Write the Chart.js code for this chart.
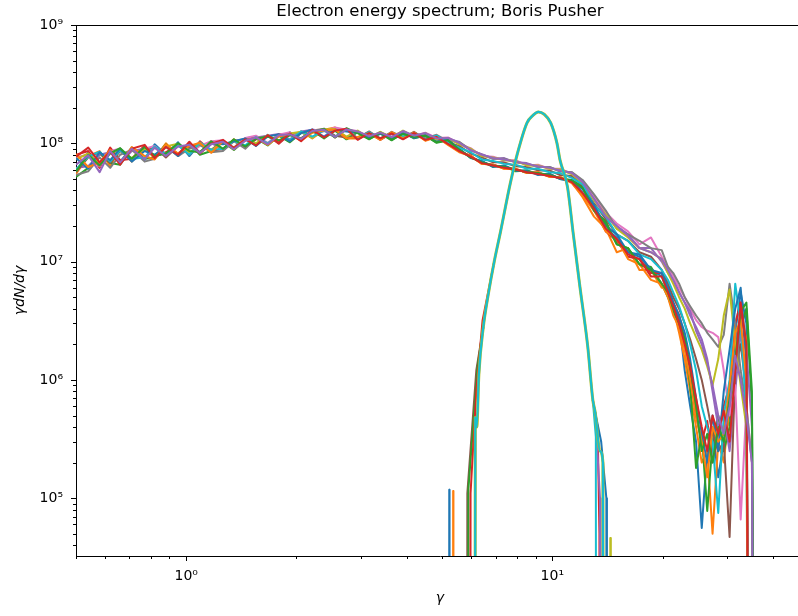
<!DOCTYPE html>
<html>
<head>
<meta charset="utf-8">
<script src="https://cdn.jsdelivr.net/npm/chart.js@4.4.1/dist/chart.umd.min.js"></script>
<style>
  html, body { margin: 0; padding: 0; background: #fff; overflow: hidden; }
  canvas { display: block; }
</style>
</head>
<body>
<canvas id="spectrum" width="806" height="616"></canvas>
<script>
// gamma bin centres shared by all the late-time spectra
const gammaBins = [0.50,0.54,0.58,0.62,0.66,0.71,0.77,0.82,0.88,0.95,1.02,1.09,1.17,1.26,1.35,1.45,1.55,1.67,1.79,1.92,
  2.06,2.21,2.38,2.55,2.74,2.94,3.16,3.39,3.64,3.91,4.19,4.50,4.83,5.19,5.57,5.98,6.42,6.89,7.39,7.94,
  8.52,9.14,9.82,10.5,11.3,12.1,13.0,14.0,15.0,16.1,17.3,18.6,19.9,20.7,21.4,22.2,23.0,23.8,24.7,25.6,
  26.5,27.4,28.4,29.4,30.5,31.6,32.7,33.9,35.1,36.4,37.7];

// gamma dN/dgamma of each run, in units of 1e6 (0 = empty bin)
const run01 = [58,84,66,88,70,92,72,98,80,102,78,99,86, 104,90,110,96,118,100,124,106,127,112,134,112,
  126,110,124,108,126,112,119,104,107, 90,75,71,63,65,59,59,54,55,50,49,
  38,29,19,16,12,11,8.5,7.5,5.5,4.5,3.2,1.2,0.6,0.3,0.056,0.25,0.4,0.15,0.3,0.5,2.5,5.5,3,0,0,0];
const run02 = [55,78,86,64,90,70,95,74,100,78,97,82,104, 88,108,92,114,98,120,104,126,110,130,136,110,
  110,125,108,124,110,125,106,114,98, 85,79,67,66,61,61,56,57,52,52,47,
  35,24,19,12,13,8.5,8.5,6,6,4,2.5,1.5,0.8,0.4,0.2,0.25,0.05,0.3,0.2,0.6,1.5,3.5,2.2,0,0,0];
const run03 = [52,62,82,68,66,91,74,76,98,80,99,80,86, 102,88,106,110,96,116,102,122,128,110,128,108,
  124,109,121,106,123,110,116,101,106, 89,76,70,64,64,58,59,55,55,50,49,
  43,27,22,14,13,9.5,9,6.5,5,3.8,3,2,0.9,0.18,0.35,0.078,0.3,0.5,0.25,0.4,1.2,2.8,4,0.6,0,0];
const run04 = [80,86,62,92,72,74,96,77,84,98,80,104,86, 90,107,93,108,116,99,120,106,124,130,112,132,
  108,123,107,122,109,124,107,112,100, 86,78,68,66,62,60,57,56,53,51,47,
  37,28,18,15,11,10.5,8,8,6,4.5,3.5,2.2,1.2,0.5,0.3,0.45,0.2,0.35,0.6,0.9,3,4.5,1.5,0,0,0];
const run05 = [62,64,80,84,68,86,90,78,94,82,98,84,101, 88,105,108,112,116,120,108,126,130,114,134,128,
  125,114,124,111,125,113,121,108,110, 102,87,81,74,75,69,68,63,63,58,57,
  47,35,25,20,17,13,13,10,8,7,5.5,4.5,3.5,2.8,2.2,1.5,0.8,0.4,0.5,0.25,0.8,2.5,1.8,0.4,0,0];
const run06 = [57,76,84,68,86,72,88,93,76,95,92,99,88, 104,92,110,114,99,119,120,110,128,132,116,112,
  112,124,110,123,112,123,109,115,101, 95,82,76,69,69,64,63,59,59,54,53,
  44,31,23,17,15,12,11,8.5,6.5,5,4,3,2.2,1.5,1,0.6,0.35,0.25,0.3,0.047,1.2,2,0.8,0,0,0];
const run07 = [76,80,64,86,90,72,90,95,80,97,82,95,104, 106,90,111,116,101,118,124,108,131,126,136,130,
  127,113,122,114,126,115,123,111,112, 99,91,78,77,72,72,65,66,61,61,55,
  48,36,26,21,18,14,16,11,9,7.5,6,5,4,3.2,2.8,2.6,2.5,2.3,1.2,0.5,0.9,0.066,0.6,0.2,0,0];
const run08 = [54,58,76,62,80,88,70,74,93,78,90,97,84, 86,104,90,111,115,102,119,124,112,133,114,130,
  111,126,109,125,113,124,110,118,104, 103,88,80,74,74,69,67,63,63,58,57,
  49,37,27,19,17,15,13,12.5,9,8,6.5,5,4.2,3.5,3,2.5,2.2,1.9,2.4,6.5,3,1.2,0.6,0.2,0,0];
const run09 = [73,82,67,84,87,75,89,76,94,99,83,100,87, 103,91,108,100,117,104,121,125,111,131,132,114,
  128,110,125,112,128,114,122,107,111, 98,90,78,76,72,71,65,65,61,60,55,
  46,33,25,19,16,13,12,10.5,8,6.5,5,4,3,2.3,1.8,1.3,0.9,1.5,3.5,5.8,2,0.9,0.4,0,0,0];
const run10 = [60,77,85,70,87,74,76,94,81,96,80,102,88, 90,105,96,113,100,117,106,126,114,128,113,133,
  109,124,108,121,114,121,108,116,102, 92,84,73,71,67,66,61,61,57,56,51,
  45,30,24,17,15,11.5,10.5,8.5,7,5.5,4.2,3,2,1.2,0.6,0.4,0.3,0.075,0.5,1,6.5,3,0.5,0,0,0];
const run11 = [75,61,84,72,90,70,86,80,95,78,99,84,100, 98,104,110,95,114,119,104,122,131,113,130,126,
  123,111,120,110,122,111,117,103,107, 88,76,70,64,64,59,58,55,55,50,48,
  41,30,20,17,12,11.5,8.5,8,6,4.5,3.5,2.5,1.5,0.7,0.35,0.2,0.5,0.25,0.8,1.8,4,6,1.5,0,0,0];
const run12 = [81,63,69,88,67,93,78,73,98,82,95,101,83, 104,89,106,111,97,114,120,105,123,128,131,110,
  113,121,107,124,110,123,105,113,97, 84,78,67,66,61,61,56,57,52,52,46,
  36,27,18,15.5,10.5,9.5,7,6.5,5,3.5,2.8,1.8,1,0.5,0.3,0.15,0.4,0.3,0.35,0.9,2.5,3.2,1,0,0,0];
const run13 = [58,80,65,82,91,74,93,78,82,100,86,84,104, 90,108,94,109,114,106,117,110,126,132,112,134,
  122,108,123,107,120,113,116,102,106, 88,76,69,65,63,60,57,56,54,51,48,
  42,27,21,14,13,9.5,8.5,6.5,5.5,4,3,2.2,1.3,0.6,0.25,0.35,0.2,0.4,0.3,0.7,1.5,3.8,4.5,0.8,0,0];
const run14 = [77,92,69,85,66,90,97,75,93,80,103,82,99, 107,91,108,96,117,101,121,104,130,112,128,133,
  107,122,110,121,108,122,107,113,99, 86,77,68,65,62,60,57,55,53,51,47,
  38,28,19,15.5,11.5,10.5,7.5,7.5,5.5,4.2,3,2,1.3,0.7,0.4,0.25,0.5,0.35,0.55,0.3,1.2,4.5,2,0,0,0];
const run15 = [66,79,57,86,69,90,73,92,78,94,97,83,98, 103,89,105,112,98,117,119,109,127,130,113,131,
  126,115,123,113,127,116,122,110,111, 101,88,80,75,73,70,67,64,62,59,56,
  47,34,24,20,16.5,13,12,10.5,8.5,7,5.5,4.5,3.8,2.6,2,1.4,0.9,0.5,0.35,0.6,1.6,1,0.5,0.2,0,0];

// initial (beam) distribution, also in units of 1e6
const gaussGamma = [6.14,6.16,6.22,6.3,6.48,6.7,6.94,7.21,7.68,8.03,8.53,8.85,9.16,9.5,9.9,10.3,10.5,
  11.0,11.4,11.9,12.5,12.9,13.1,13.5,13.75,13.8];
const gaussValues = [0,0.48,0.4,1.1,2.8,5.5,10,17.5,46,82,149,172,184,176,149,100,72,
  43,17.5,6.1,1.9,0.68,0.53,0.25,0.2,0];

// run-to-run differences at the edges of the initial distribution
const edgeBlueGamma = [5.22,5.23,5.24],        edgeBlueValues = [0,0.118,0];
const edgeOrangeGamma = [5.35,5.36,5.37],      edgeOrangeValues = [0,0.115,0];
const edgeBrownGamma = [5.84,5.86,6.2,6.48],   edgeBrownValues = [0,0.11,1.2,2.8];
const edgeGreenGamma = [5.88,5.9,6.25,6.48],   edgeGreenValues = [0,0.12,1.3,2.8];
const edgeRedGamma = [5.95,5.98,6.2,6.45,6.94], edgeRedValues = [0,0.11,0.8,3.2,10];
const tailCyanGamma = [12.9,13.15,13.2],       tailCyanValues = [0.68,0.33,0];
const tailRedGamma = [12.9,13.3,13.45,13.5],   tailRedValues = [0.68,0.4,0.05,0];
const tailBlueGamma = [13.1,13.6,14.05,14.1],  tailBlueValues = [0.53,0.3,0.1,0];
const tailPurpleGamma = [13.1,13.5,13.55],     tailPurpleValues = [0.53,0.1,0];
const tailOliveGamma = [14.35,14.4,14.45],     tailOliveValues = [0,0.046,0];

const xMajor = [1, 10];
const yMajor = [1e5, 1e6, 1e7, 1e8, 1e9];

const tab10 = ['#1f77b4','#ff7f0e','#2ca02c','#d62728','#9467bd','#8c564b','#e377c2','#7f7f7f','#bcbd22','#17becf'];
const runs = [run01,run02,run03,run04,run05,run06,run07,run08,run09,run10,run11,run12,run13,run14,run15];
const edges = [
  [edgeBlueGamma, edgeBlueValues, tab10[0]],
  [edgeOrangeGamma, edgeOrangeValues, tab10[1]],
  [edgeBrownGamma, edgeBrownValues, tab10[5]],
  [edgeGreenGamma, edgeGreenValues, tab10[2]],
  [edgeRedGamma, edgeRedValues, tab10[3]],
  [tailRedGamma, tailRedValues, tab10[3]],
  [tailBlueGamma, tailBlueValues, tab10[0]],
  [tailPurpleGamma, tailPurpleValues, tab10[4]],
  [tailOliveGamma, tailOliveValues, tab10[8]],
  [tailCyanGamma, tailCyanValues, tab10[9]],
];

// empty bins fall off the bottom like matplotlib's clipped log axis
const counts = v => (v > 0 ? v * 1e6 : 1e-3);
const toPoints = (xs, ys) => xs.map((g, i) => ({x: g, y: counts(ys[i])}));

const line = (data, color, extra) => Object.assign({
  data, borderColor: color, backgroundColor: color,
  borderWidth: 2, pointRadius: 0, fill: false, tension: 0,
  borderJoinStyle: 'round',
}, extra);

const datasets = [];
runs.forEach((r, i) => datasets.push(line(toPoints(gammaBins, r), tab10[i % 10])));
edges.forEach(([g, v, c]) => datasets.push(line(toPoints(g, v), c)));
datasets.push(line(toPoints(gaussGamma, gaussValues), tab10[8], {borderWidth: 3, cubicInterpolationMode: 'monotone'}));
datasets.push(line(toPoints(gaussGamma, gaussValues), tab10[9], {borderWidth: 2.2, cubicInterpolationMode: 'monotone'}));
// matplotlib draws later lines on top
datasets.forEach((d, i) => { d.order = datasets.length - i; });

const supDigits = {'0':'⁰','1':'¹','2':'²','3':'³','4':'⁴','5':'⁵','6':'⁶','7':'⁷','8':'⁸','9':'⁹'};
const powLabel = v => '10' + String(Math.round(Math.log10(v))).split('').map(c => supDigits[c]).join('');

const minorTicks = (lo, hi) => {
  const out = [];
  for (let d = Math.floor(Math.log10(lo)); d <= Math.ceil(Math.log10(hi)); d++) {
    for (let m = 2; m <= 9; m++) {
      const v = m * Math.pow(10, d);
      if (v >= lo && v <= hi) out.push(v);
    }
  }
  return out;
};

const frame = {
  id: 'frame',
  afterDraw(chart) {
    const {ctx, chartArea: a, scales: {x, y}} = chart;
    ctx.save();
    ctx.strokeStyle = '#000';
    ctx.lineWidth = 1;
    ctx.beginPath();
    ctx.moveTo(a.left, a.top + 0.5); ctx.lineTo(a.right, a.top + 0.5);
    ctx.moveTo(a.right - 0.5, a.top); ctx.lineTo(a.right - 0.5, a.bottom);
    const tickX = (v, len) => {
      const px = Math.round(x.getPixelForValue(v)) + 0.5;
      ctx.moveTo(px, a.bottom); ctx.lineTo(px, a.bottom + len);
    };
    const tickY = (v, len) => {
      const py = Math.round(y.getPixelForValue(v)) + 0.5;
      ctx.moveTo(a.left, py); ctx.lineTo(a.left - len, py);
    };
    xMajor.forEach(v => tickX(v, 5));
    minorTicks(x.min, x.max).forEach(v => tickX(v, 3));
    yMajor.forEach(v => tickY(v, 5));
    minorTicks(y.min, y.max).forEach(v => tickY(v, 3));
    ctx.stroke();
    ctx.fillStyle = '#000';
    ctx.font = '16.5px "DejaVu Sans"';
    ctx.textAlign = 'center';
    ctx.textBaseline = 'alphabetic';
    ctx.fillText('Electron energy spectrum; Boris Pusher', (a.left + a.right) / 2, 16);
    ctx.restore();
  }
};

Chart.defaults.font.family = "'DejaVu Sans'";
Chart.defaults.color = '#000';

new Chart(document.getElementById('spectrum'), {
  type: 'line',
  data: {datasets},
  plugins: [frame],
  options: {
    responsive: false,
    animation: false,
    devicePixelRatio: 1,
    events: [],
    layout: {padding: {top: 25, right: 2, left: 0, bottom: 0}},
    plugins: {legend: {display: false}, tooltip: {enabled: false}, title: {display: false}},
    scales: {
      x: {
        type: 'logarithmic', position: 'bottom', min: 0.5, max: 48.7,
        grid: {display: false, drawTicks: false},
        border: {display: true, color: '#000', width: 1},
        afterBuildTicks: s => { s.ticks = xMajor.map(v => ({value: v})); },
        afterFit: s => { s.height = 60; },
        ticks: {autoSkip: false, maxRotation: 0, padding: 12, font: {size: 14}, callback: v => powLabel(v)},
        title: {display: true, text: 'γ', font: {size: 14, style: 'italic'}, padding: {top: 0, bottom: 9}},
      },
      y: {
        type: 'logarithmic', position: 'left', min: 32460, max: 1e9,
        grid: {display: false, drawTicks: false},
        border: {display: true, color: '#000', width: 1},
        afterBuildTicks: s => { s.ticks = yMajor.map(v => ({value: v})); },
        afterFit: s => { s.width = 76; },
        ticks: {autoSkip: false, padding: 13, font: {size: 14}, callback: v => powLabel(v)},
        title: {display: true, text: 'γdN/dγ', font: {size: 14, style: 'italic'}, padding: {top: 12, bottom: 0}},
      },
    },
  },
});
</script>
</body>
</html>
